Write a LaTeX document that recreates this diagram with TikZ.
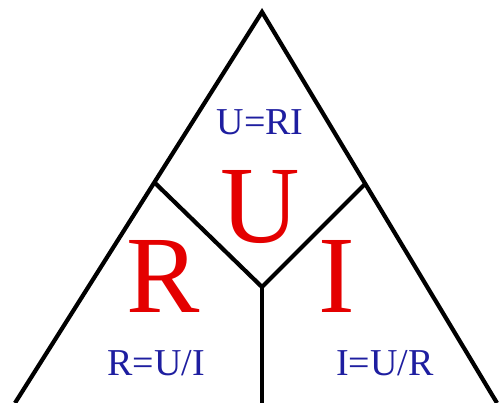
\documentclass[tikz,border=0pt]{standalone}
\usepackage{fontspec}
\setmainfont{Liberation Serif}
\usepackage{xcolor}
\definecolor{lawred}{RGB}{228,0,0}
\definecolor{lawblue}{RGB}{30,30,160}

\begin{document}
\begin{tikzpicture}[x=1pt,y=-1pt,line width=4.2pt,
  big/.style={text=lawred,font=\fontsize{110}{110}\selectfont,anchor=base,inner sep=0pt},
  law/.style={text=lawblue,font=\fontsize{38}{38}\selectfont,anchor=base,inner sep=0pt}]
  \useasboundingbox (0,0) rectangle (500,403);
  % outer triangle
  \coordinate (top) at (262,12);
  \coordinate (bl) at (15,403);
  \coordinate (br) at (497,403);
  \coordinate (jl) at (155,183);
  \coordinate (jr) at (366,183);
  \coordinate (mid) at (262,287);
  \coordinate (bot) at (262,403);
  \draw[line join=miter] (bl) -- (top) -- (br);
  \draw (jl) -- (mid) -- (jr);
  \draw (mid) -- (bot);
  % letters
  \node[big] (bigU) at (260,242) {U};
  \node[big] (bigR) at (163,312) {R};
  \node[big] (bigI) at (337,312) {I};
  % formulas
  \node[law] (lawU) at (260,135) {U=RI};
  \node[law] (lawR) at (156,375) {R=U/I};
  \node[law] (lawI) at (385,375) {I=U/R};
\end{tikzpicture}
\end{document}
